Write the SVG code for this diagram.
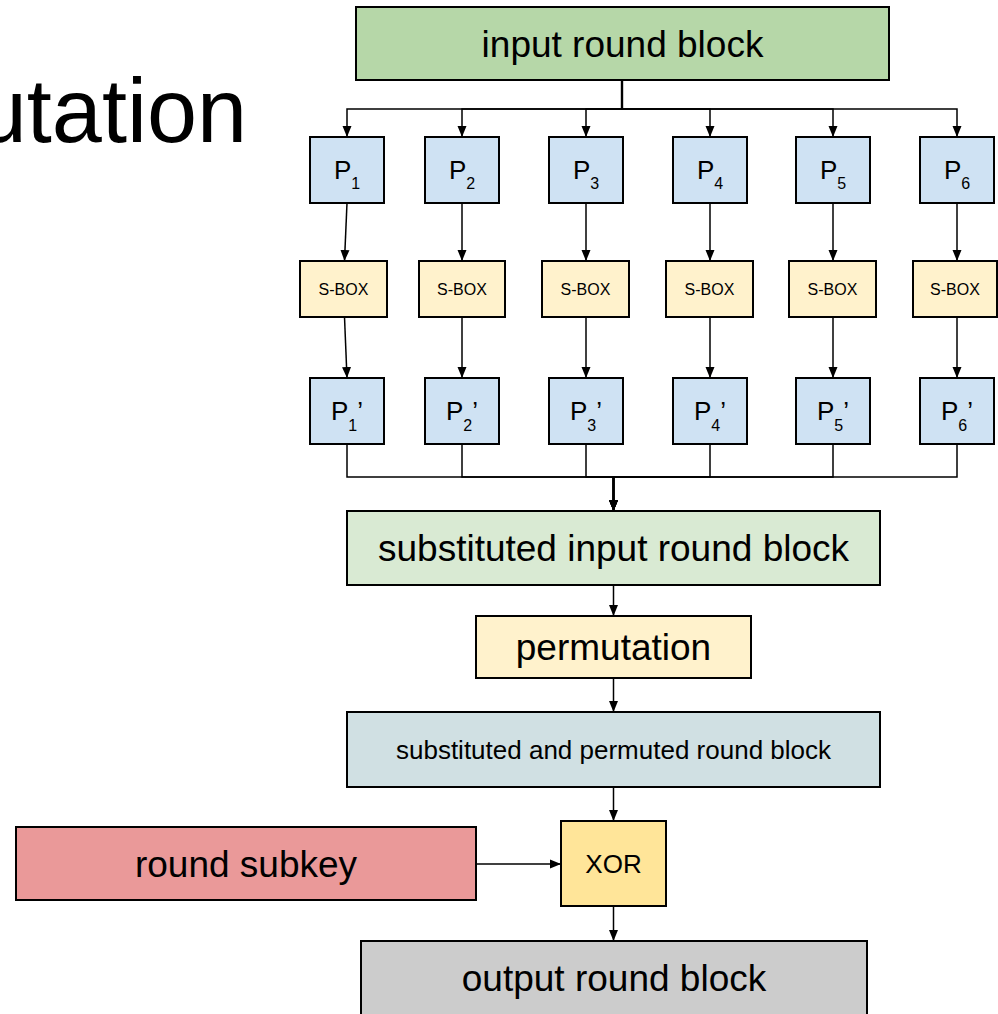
<svg xmlns="http://www.w3.org/2000/svg" width="998" height="1014" viewBox="0 0 998 1014">
<defs>
<marker id="ah" markerWidth="11" markerHeight="10" refX="11" refY="5" orient="auto" markerUnits="userSpaceOnUse">
<path d="M0,0.5 L11,5 L0,9.5 z" fill="#000"/>
</marker>
<style>
text{font-family:"Liberation Sans",Arial,sans-serif;fill:#000;text-anchor:middle}
.box{stroke:#000;stroke-width:2}
.pb{fill:#cfe2f3}
.sb{fill:#fff2cc}
.c{fill:none;stroke:#000;stroke-width:2.4}
.ca{fill:none;stroke:#000;stroke-width:1.5;marker-end:url(#ah)}
.big{font-size:37px}
.mid{font-size:26px}
.sm{font-size:16px}
.sub{font-size:16px}
</style>
</defs>
<rect width="998" height="1014" fill="#fff"/>
<text x="247" y="142" style="font-size:90px;text-anchor:end">utation</text>

<g id="connectors">
<path class="ca" d="M622,80 V109 H347 V137"/>
<path class="ca" d="M622,80 V109 H462 V137"/>
<path class="ca" d="M622,80 V109 H586 V137"/>
<path class="ca" d="M622,80 V109 H710 V137"/>
<path class="ca" d="M622,80 V109 H833 V137"/>
<path class="ca" d="M622,80 V109 H957 V137"/>
<path class="c" d="M622,80 V109"/>
<path class="ca" d="M347,203 L344.5,261"/>
<path class="ca" d="M462,203 V261"/>
<path class="ca" d="M586,203 V261"/>
<path class="ca" d="M710,203 V261"/>
<path class="ca" d="M833,203 V261"/>
<path class="ca" d="M957,203 V261"/>
<path class="ca" d="M344.5,317 L347,378"/>
<path class="ca" d="M462,317 V378"/>
<path class="ca" d="M586,317 V378"/>
<path class="ca" d="M710,317 V378"/>
<path class="ca" d="M833,317 V378"/>
<path class="ca" d="M957,317 V378"/>
<path class="ca" d="M347,444 V477 H613.5 V511"/>
<path class="ca" d="M462,444 V477 H613.5 V511"/>
<path class="ca" d="M586,444 V477 H613.5 V511"/>
<path class="ca" d="M710,444 V477 H613.5 V511"/>
<path class="ca" d="M833,444 V477 H613.5 V511"/>
<path class="ca" d="M957,444 V477 H613.5 V511"/>
<path class="c" d="M613.5,477 V500"/>
<path class="ca" d="M613.5,585 V616"/>
<path class="ca" d="M613.5,678 V712"/>
<path class="ca" d="M613.5,787 V821"/>
<path class="ca" d="M613.5,906 V941"/>
<path class="ca" d="M476,864 H561"/>
</g>

<g id="input">
<rect class="box" x="356" y="7" width="533" height="73" fill="#b6d7a8"/>
<text class="big" x="622.5" y="57">input round block</text>
</g>

<g id="p1"><rect class="box pb" x="310" y="137" width="74" height="66"/><text class="mid" x="347" y="179">P<tspan class="sub" dy="10">1</tspan></text></g>
<g id="p2"><rect class="box pb" x="425" y="137" width="74" height="66"/><text class="mid" x="462" y="179">P<tspan class="sub" dy="10">2</tspan></text></g>
<g id="p3"><rect class="box pb" x="549" y="137" width="74" height="66"/><text class="mid" x="586" y="179">P<tspan class="sub" dy="10">3</tspan></text></g>
<g id="p4"><rect class="box pb" x="673" y="137" width="74" height="66"/><text class="mid" x="710" y="179">P<tspan class="sub" dy="10">4</tspan></text></g>
<g id="p5"><rect class="box pb" x="796" y="137" width="74" height="66"/><text class="mid" x="833" y="179">P<tspan class="sub" dy="10">5</tspan></text></g>
<g id="p6"><rect class="box pb" x="920" y="137" width="74" height="66"/><text class="mid" x="957" y="179">P<tspan class="sub" dy="10">6</tspan></text></g>

<g id="s1"><rect class="box sb" x="300" y="261" width="87" height="56"/><text class="sm" x="343.5" y="295">S-BOX</text></g>
<g id="s2"><rect class="box sb" x="419" y="261" width="86" height="56"/><text class="sm" x="462" y="295">S-BOX</text></g>
<g id="s3"><rect class="box sb" x="542" y="261" width="87" height="56"/><text class="sm" x="585.5" y="295">S-BOX</text></g>
<g id="s4"><rect class="box sb" x="666" y="261" width="87" height="56"/><text class="sm" x="709.5" y="295">S-BOX</text></g>
<g id="s5"><rect class="box sb" x="789" y="261" width="87" height="56"/><text class="sm" x="832.5" y="295">S-BOX</text></g>
<g id="s6"><rect class="box sb" x="913" y="261" width="84" height="56"/><text class="sm" x="955" y="295">S-BOX</text></g>

<g id="q1"><rect class="box pb" x="310" y="378" width="74" height="66"/><text class="mid" x="347" y="420">P<tspan class="sub" dy="11">1</tspan><tspan dy="-11">’</tspan></text></g>
<g id="q2"><rect class="box pb" x="425" y="378" width="74" height="66"/><text class="mid" x="462" y="420">P<tspan class="sub" dy="11">2</tspan><tspan dy="-11">’</tspan></text></g>
<g id="q3"><rect class="box pb" x="549" y="378" width="74" height="66"/><text class="mid" x="586" y="420">P<tspan class="sub" dy="11">3</tspan><tspan dy="-11">’</tspan></text></g>
<g id="q4"><rect class="box pb" x="673" y="378" width="74" height="66"/><text class="mid" x="710" y="420">P<tspan class="sub" dy="11">4</tspan><tspan dy="-11">’</tspan></text></g>
<g id="q5"><rect class="box pb" x="796" y="378" width="74" height="66"/><text class="mid" x="833" y="420">P<tspan class="sub" dy="11">5</tspan><tspan dy="-11">’</tspan></text></g>
<g id="q6"><rect class="box pb" x="920" y="378" width="74" height="66"/><text class="mid" x="957" y="420">P<tspan class="sub" dy="11">6</tspan><tspan dy="-11">’</tspan></text></g>

<g id="substituted">
<rect class="box" x="347" y="511" width="533" height="74" fill="#d9ead3"/>
<text class="big" x="613.5" y="561">substituted input round block</text>
</g>
<g id="permutation">
<rect class="box" x="476" y="616" width="275" height="62" fill="#fff2cc"/>
<text class="big" x="613.5" y="660">permutation</text>
</g>
<g id="subperm">
<rect class="box" x="347" y="712" width="533" height="75" fill="#d0e0e3"/>
<text class="mid" x="613.5" y="759">substituted and permuted round block</text>
</g>
<g id="subkey">
<rect class="box" x="16" y="827" width="460" height="73" fill="#ea9999"/>
<text class="big" x="246" y="877">round subkey</text>
</g>
<g id="xor">
<rect class="box" x="561" y="821" width="105" height="85" fill="#ffe599"/>
<text class="mid" x="613.5" y="873">XOR</text>
</g>
<g id="output">
<rect class="box" x="361" y="941" width="506" height="80" fill="#cccccc"/>
<text class="big" x="614" y="991">output round block</text>
</g>
</svg>
